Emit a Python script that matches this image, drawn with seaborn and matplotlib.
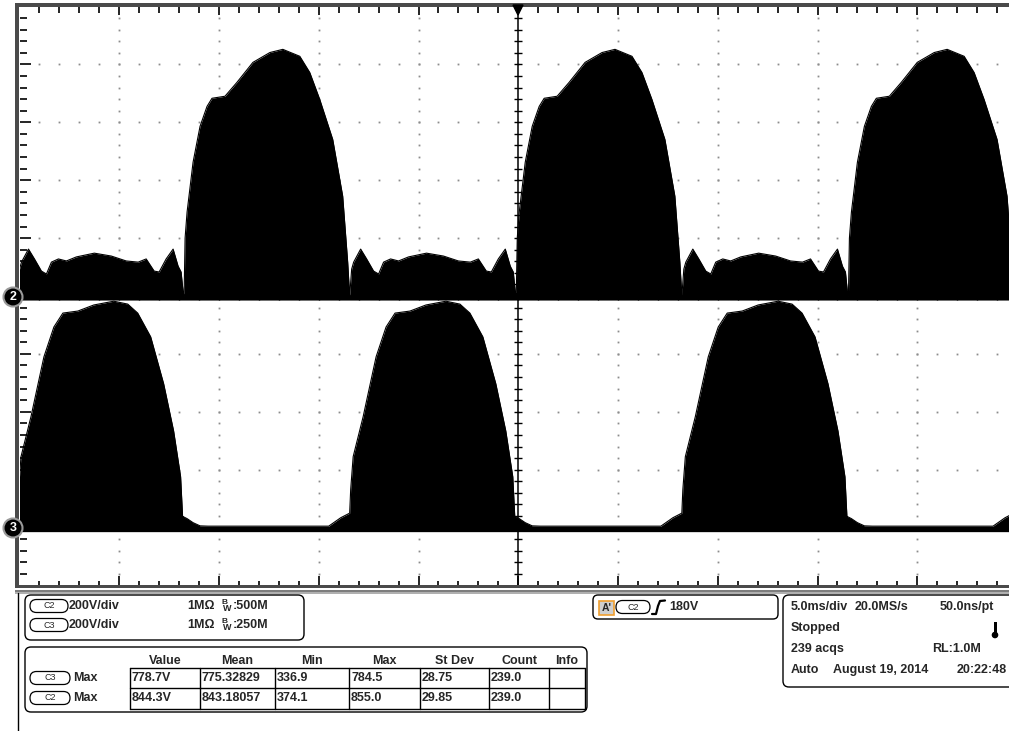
import numpy as np
import pandas as pd
import matplotlib
matplotlib.use("Agg")
import matplotlib.pyplot as plt
from matplotlib.patches import FancyBboxPatch, Rectangle, Circle, Polygon
from matplotlib.lines import Line2D
from matplotlib.transforms import IdentityTransform
import seaborn as sns

W, H = 1009, 731

# === DATA ===
# time in ms (5 ms/div, trigger at centre), amplitude in V (200 V/div)
ch2_hump_t = [0, 0.05, 0.15, 0.45, 0.8, 1.15, 1.4, 2.05, 2.65, 3.45, 4.3, 4.95, 5.8, 6.3, 6.8, 7.45, 7.95, 8.2, 8.3]
ch2_hump_v = [0, 200, 290, 462, 586, 655, 683, 690, 738, 807, 841, 852, 828, 772, 679, 541, 345, 117, 0]
ch2_ripple_t = [0, 0.1, 0.2, 0.55, 0.85, 1.2, 1.45, 1.7, 2.05, 2.45, 2.95, 3.85, 4.7, 5.45, 6.05, 6.45, 6.85, 7.1, 7.45, 7.8, 8.05, 8.2, 8.3, 8.35]
ch2_ripple_v = [0, 93, 117, 162, 128, 86, 76, 117, 128, 121, 135, 148, 138, 121, 117, 128, 86, 83, 128, 162, 103, 83, 14, 0]
ch2_hump_starts = [-16.75, -0.1, 16.55]
ch2_ripple_starts = [-25.1, -8.45, 8.2]

ch3_hump_t = [0, 0.05, 0.175, 0.675, 1.325, 1.825, 2.275, 3.025, 3.825, 4.825, 5.525, 6.025, 6.675, 7.325, 7.825, 8.175, 8.275, 8.3]
ch3_hump_v = [50, 131, 245, 383, 590, 693, 741, 748, 769, 782, 772, 741, 659, 497, 334, 176, 38, 31]
ch3_gap_t = [0, 0.2, 0.5, 0.85, 1.25, 7.3, 7.9, 8.35]
ch3_gap_v = [38, 31, 17, 6, 5, 5, 34, 50]
ch3_hump_starts = [-25.1, -8.45, 8.2]
ch3_gap_starts = [-16.8, -0.15, 16.5]

ch_position = {"C2": 0.0, "C3": -4.0}   # divisions
volts_per_div = 200
trace_floor = -14                        # V, lower edge of the trace band

ch_rows = [("C2", "200V/div", "1M\u03a9", "500M"), ("C3", "200V/div", "1M\u03a9", "250M")]
meas_cols = ["Value", "Mean", "Min", "Max", "St Dev", "Count", "Info"]
meas_rows = [
    ("C3", "Max", ["778.7V", "775.32829", "336.9", "784.5", "28.75", "239.0", ""]),
    ("C2", "Max", ["844.3V", "843.18057", "374.1", "855.0", "29.85", "239.0", ""]),
]
trig_level = "180V"
acq_lines = [
    [(791, "5.0ms/div"), (855, "20.0MS/s"), (940, "50.0ns/pt")],
    [(791, "Stopped")],
    [(791, "239 acqs"), (932, "RL:1.0M")],
    [(791, "Auto"), (833, "August 19, 2014"), (957, "20:22:48")],
]


def build(starts_a, prof_a, starts_b, prof_b):
    segs = [(s, prof_a) for s in starts_a] + [(s, prof_b) for s in starts_b]
    t, v = [], []
    for s, (pt, pv) in sorted(segs, key=lambda z: z[0]):
        t.extend(s + np.array(pt))
        v.extend(pv)
    return np.array(t), np.array(v)


t2, v2 = build(ch2_ripple_starts, (ch2_ripple_t, ch2_ripple_v), ch2_hump_starts, (ch2_hump_t, ch2_hump_v))
t3, v3 = build(ch3_hump_starts, (ch3_hump_t, ch3_hump_v), ch3_gap_starts, (ch3_gap_t, ch3_gap_v))
df = pd.concat([
    pd.DataFrame({"t": t2, "v": v2, "ch": "C2"}),
    pd.DataFrame({"t": t3, "v": v3, "ch": "C3"}),
], ignore_index=True)
df["upper"] = df["ch"].map(ch_position) + df["v"] / volts_per_div
df["lower"] = df["ch"].map(ch_position) + trace_floor / volts_per_div

# === Figure ===
sns.set_style("white")
plt.rcParams["font.family"] = ["Liberation Sans", "DejaVu Sans"]
fig = plt.figure(figsize=(W / 100, H / 100), dpi=100)
fig.patch.set_facecolor("white")

x_left, x_right, y_top, y_bot = 19.5, 1017, 6.5, 585.5
ax = fig.add_axes([x_left / W, 1 - y_bot / H, (x_right - x_left) / W, (y_bot - y_top) / H])
ax.set_xlim(-25, 25)
ax.set_ylim(-5, 5)
ax.axis("off")
px_x = (x_right - x_left) / 50.0   # px per ms
px_y = (y_bot - y_top) / 10.0      # px per div

# dotted graticule
for gx in [-20, -15, -10, -5, 5, 10, 15, 20]:
    ys = np.arange(-4.8, 5.0, 0.2)
    ax.plot(np.full_like(ys, gx), ys, ls="none", marker="s", ms=1.3, color="#8c8c8c", mew=0)
for gy in [-4, -3, -2, -1, 1, 2, 3, 4]:
    xs = np.arange(-24, 25, 1.0)
    ax.plot(xs, np.full_like(xs, gy), ls="none", marker="s", ms=1.3, color="#8c8c8c", mew=0)

# centre crosshair with ticks
ax.axvline(0, color="black", lw=1.1)
ax.axhline(0, color="black", lw=1.1)
yt = np.arange(-4.8, 5.0, 0.2)
ax.hlines(yt, -4 / px_x, 4 / px_x, color="black", lw=1)
xt = np.arange(-24, 25, 1.0)
ax.vlines(xt, -4 / px_y, 4 / px_y, color="black", lw=1)

# edge ticks
xt_major = np.abs(np.round(xt) % 5) < 1e-6
ax.vlines(xt, 5 - np.where(xt_major, 8, 6) / px_y, 5, color="black", lw=1.2, clip_on=False)
ax.vlines(xt, -5, -5 + np.where(xt_major, 10, 5) / px_y, color="black", lw=1.2, clip_on=False)
yt_major = np.abs(yt - np.round(yt)) < 1e-6
ax.hlines(yt, -25, -25 + np.where(yt_major, 11, 7) / px_x, color="black", lw=1.2, clip_on=False)

# traces
for ch, grp in df.groupby("ch"):
    ax.fill_between(grp["t"], grp["lower"], grp["upper"], color="black", lw=0, zorder=5)
sns.lineplot(data=df, x="t", y="upper", hue="ch", palette={"C2": "black", "C3": "black"},
             estimator=None, sort=False, legend=False, lw=0.8, ax=ax, zorder=6)
ax.set_xlim(-25, 25)
ax.set_ylim(-5, 5)
ax.axis("off")

# === Screen furniture in pixel coordinates ===
IT = IdentityTransform()


def rect(x0, y0, x1, y1, **kw):
    fig.add_artist(Rectangle((x0, H - y1), x1 - x0, y1 - y0, transform=IT, **kw))


def rbox(x0, y0, x1, y1, r, **kw):
    fig.add_artist(FancyBboxPatch((x0, H - y1), x1 - x0, y1 - y0,
                                  boxstyle=f"round,pad=0,rounding_size={r}", transform=IT, **kw))


def line(xs, ys, **kw):
    fig.add_artist(Line2D(xs, [H - y for y in ys], transform=IT, **kw))


def text(x, y, s, **kw):
    kw.setdefault("fontsize", 9)
    kw.setdefault("fontweight", "bold")
    kw.setdefault("va", "center")
    fig.text(x / W, 1 - y / H, s, **kw)


def pill(x0, x1, yc, label):
    rbox(x0, yc - 6.5, x1, yc + 6.5, 6.5, fill=False, ec="black", lw=0.9)
    text((x0 + x1) / 2, yc, label, fontsize=6.5, fontweight="normal", ha="center")


# frame
rect(15, 3, 1009, 7, color="#4a4a4a", lw=0)
rect(15, 3, 19, 588, color="#4a4a4a", lw=0)
rect(15, 585, 1009, 588, color="#4a4a4a", lw=0)
rect(15, 589.5, 1009, 591.5, color="#7d7d7d", lw=0)
rect(15, 592, 1009, 593.5, color="#b0b0b0", lw=0)
line([18, 18], [593, 731], color="black", lw=1)

# trigger position marker
fig.add_artist(Polygon([(513, H - 5), (523, H - 5), (518, H - 15)], closed=True,
                       transform=IT, color="black"))

# channel ground markers
for num, yc in [("2", 297), ("3", 528)]:
    fig.add_artist(Circle((13, H - yc), 9.5, transform=IT, fc="black", ec="#9a9a9a", lw=1.5, zorder=10))
    fig.text(13 / W, 1 - yc / H, num, color="white", fontsize=9, fontweight="bold",
             ha="center", va="center", zorder=11)

# channel settings panel
rbox(25, 595, 304, 640, 6, fill=False, ec="black", lw=1)
for (ch, vdiv, imp, bw), yc in zip(ch_rows, [606, 625]):
    pill(30, 68, yc, ch)
    text(69, yc, vdiv)
    text(187, yc, imp)
    text(221, yc - 3.5, "B", fontsize=6)
    text(223, yc + 2.5, "W", fontsize=6.5)
    text(233, yc, ":" + bw)

# measurement panel
rbox(25, 647, 587, 712, 6, fill=False, ec="black", lw=1)
col_edges = [130, 200, 275, 349, 420, 489, 549, 585]
row_edges = [668, 688, 709]
for i, name in enumerate(meas_cols):
    text((col_edges[i] + col_edges[i + 1]) / 2, 661, name, ha="center")
for xe in col_edges:
    line([xe, xe], [row_edges[0], row_edges[-1]], color="black", lw=1)
for ye in row_edges:
    line([col_edges[0], col_edges[-1]], [ye, ye], color="black", lw=1)
for (ch, kind, vals), yc in zip(meas_rows, [678, 698]):
    pill(30, 70, yc, ch)
    text(73, yc, kind)
    for xe, val in zip(col_edges, vals):
        text(xe + 2, yc, val)

# trigger panel
rbox(593, 595, 778, 619, 5, fill=False, ec="black", lw=1)
rect(599, 601, 614, 615, fc="#cfcfcf", ec="#f0a030", lw=1.2)
text(606.5, 608, "A'", fontsize=7.5, ha="center")
pill(616, 650, 607, "C2")
line([652, 656, 658, 660, 665], [614, 614, 606, 601, 600.5], color="black", lw=1.6)
text(669, 607, trig_level)

# acquisition panel
rbox(783, 595, 1025, 687, 6, fill=False, ec="black", lw=1)
for row, yc in zip(acq_lines, [607, 628, 649, 670]):
    for xx, s in row:
        text(xx, yc, s)
rect(993.5, 622, 996.5, 634, color="black", lw=0)
fig.add_artist(Circle((995, H - 635), 2.6, transform=IT, color="black"))

fig.savefig("out.png", dpi=100, facecolor="white")
